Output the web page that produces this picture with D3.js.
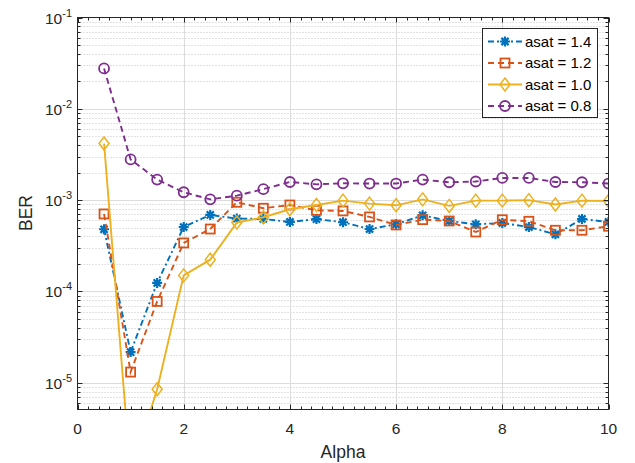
<!DOCTYPE html>
<html><head><meta charset="utf-8">
<script src="https://cdn.jsdelivr.net/npm/d3@7"></script>
<style>body{margin:0;background:#fff}svg{display:block}</style>
</head><body><svg id="c" width="635" height="463"></svg>
<script>
const alpha = [0.5,1,1.5,2,2.5,3,3.5,4,4.5,5,5.5,6,6.5,7,7.5,8,8.5,9,9.5,10];
const ber14 = [4.8e-4,2.17e-5,1.24e-4,5.08e-4,6.89e-4,6.28e-4,6.22e-4,5.77e-4,6.2e-4,5.73e-4,4.83e-4,5.44e-4,6.82e-4,5.91e-4,5.44e-4,5.62e-4,5.08e-4,4.23e-4,6.22e-4,5.77e-4];
const ber12 = [7.06e-4,1.31e-5,7.78e-5,3.4e-4,4.83e-4,9.48e-4,8.15e-4,8.85e-4,7.74e-4,7.62e-4,6.55e-4,5.35e-4,6.12e-4,5.91e-4,4.48e-4,6.1e-4,5.87e-4,4.68e-4,4.68e-4,5.18e-4];
const ber10 = [4.17e-3,1.0e-6,8.5e-6,1.5e-4,2.23e-4,5.68e-4,6.5e-4,7.94e-4,8.85e-4,9.88e-4,9.17e-4,8.78e-4,1.02e-3,8.65e-4,9.88e-4,9.88e-4,1.0e-3,8.95e-4,9.88e-4,9.8e-4];
const ber08 = [2.77e-2,2.79e-3,1.68e-3,1.22e-3,1.02e-3,1.12e-3,1.32e-3,1.58e-3,1.49e-3,1.53e-3,1.52e-3,1.52e-3,1.68e-3,1.57e-3,1.6e-3,1.75e-3,1.75e-3,1.58e-3,1.57e-3,1.52e-3];
const seriesNames = ["asat = 1.4","asat = 1.2","asat = 1.0","asat = 0.8"];
const xTicks = [0,2,4,6,8,10];
const yTickExps = [-1,-2,-3,-4,-5];

const svg = d3.select("#c");
const L=77.5,R=608.5,T=17.5,B=409.5;
const x = d3.scaleLinear().domain([0,10]).range([L,R]);
const y = d3.scaleLog().domain([5.1e-6,0.1]).range([B,T]);
const axisCol="#262626";
const font="Liberation Sans, Arial, sans-serif";
const series = [
  {v:ber14,color:"#0072BD",dash:"6,3,2,3",marker:"ast"},
  {v:ber12,color:"#D95319",dash:"6,4",marker:"sq"},
  {v:ber10,color:"#EDB120",dash:null,marker:"dia"},
  {v:ber08,color:"#7E2F8E",dash:"6,4",marker:"circ"}
];

svg.append("defs").append("clipPath").attr("id","clip").append("rect")
  .attr("x",L).attr("y",T).attr("width",R-L).attr("height",B-T);

const g = svg.append("g");
// minor y grid
for(let e=-6;e<-1;e++){
  for(let k=2;k<=9;k++){
    const v=k*Math.pow(10,e);
    if(v<5.1e-6||v>0.1) continue;
    const yy=Math.round(y(v))+0.5;
    g.append("line").attr("x1",L).attr("x2",R).attr("y1",yy).attr("y2",yy)
      .attr("stroke","#c4c4c4").attr("stroke-width",1).attr("stroke-dasharray","1,2");
  }
}
// major grid
xTicks.forEach(t=>{ if(t>0&&t<10){ const xx=Math.round(x(t))+0.5; g.append("line").attr("x1",xx).attr("x2",xx).attr("y1",T).attr("y2",B).attr("stroke","#dcdcdc"); }});
yTickExps.forEach(e=>{ const v=Math.pow(10,e); if(e>-2) return; g.append("line").attr("x1",L).attr("x2",R).attr("y1",Math.round(y(v))+0.5).attr("y2",Math.round(y(v))+0.5).attr("stroke","#dcdcdc"); });

// data
const plot = svg.append("g").attr("clip-path","url(#clip)");
const line = d3.line().x((d,i)=>x(alpha[i])).y(d=>y(d));
function marker(sel,type,color,cx,cy){
  if(type==="circ") sel.append("circle").attr("cx",cx).attr("cy",cy).attr("r",5).attr("fill","none").attr("stroke",color).attr("stroke-width",1.8);
  else if(type==="sq") sel.append("rect").attr("x",cx-4.5).attr("y",cy-4.5).attr("width",9).attr("height",9).attr("fill","none").attr("stroke",color).attr("stroke-width",1.8);
  else if(type==="dia") sel.append("path").attr("d",`M${cx},${cy-6.5}L${cx+5},${cy}L${cx},${cy+6.5}L${cx-5},${cy}Z`).attr("fill","none").attr("stroke",color).attr("stroke-width",1.5);
  else if(type==="ast"){
    const r=5;
    let d=`M${cx-r},${cy}L${cx+r},${cy}M${cx},${cy-r}L${cx},${cy+r}`;
    const a=r*0.72;
    d+=`M${cx-a},${cy-a}L${cx+a},${cy+a}M${cx-a},${cy+a}L${cx+a},${cy-a}`;
    sel.append("path").attr("d",d).attr("stroke",color).attr("stroke-width",2.2).attr("fill","none");
  }
}
series.forEach(s=>{
  const p=plot.append("path").datum(s.v).attr("d",line).attr("fill","none").attr("stroke",s.color).attr("stroke-width",1.9);
  if(s.dash) p.attr("stroke-dasharray",s.dash);
  s.v.forEach((v,i)=>marker(plot,s.marker,s.color,x(alpha[i]),y(v)));
});

// axes box
const ax = svg.append("g");
ax.append("rect").attr("x",L).attr("y",T).attr("width",R-L).attr("height",B-T).attr("fill","none").attr("stroke",axisCol).attr("stroke-width",1);
for(let i=0;i<=50;i++){
  const t=i*0.2;
  const major = i%10===0;
  const len = major?5:3;
  const xx=Math.round(x(t))+0.5;
  ax.append("line").attr("x1",xx).attr("x2",xx).attr("y1",B).attr("y2",B-len).attr("stroke",axisCol);
  ax.append("line").attr("x1",xx).attr("x2",xx).attr("y1",T).attr("y2",T+len).attr("stroke",axisCol);
}
xTicks.forEach(t=>{
  ax.append("text").attr("x",x(t)).attr("y",433.5).attr("text-anchor","middle")
    .attr("font-family",font).attr("font-size",15.5).attr("fill",axisCol).text(t);
});
for(let e=-6;e<=-1;e++){
  for(let k=1;k<=9;k++){
    const v=k*Math.pow(10,e);
    if(v<5.1e-6||v>0.1000001) continue;
    const len=k===1?5:3;
    const yy=Math.round(y(v))+0.5;
    ax.append("line").attr("x1",L).attr("x2",L+len).attr("y1",yy).attr("y2",yy).attr("stroke",axisCol);
    ax.append("line").attr("x1",R).attr("x2",R-len).attr("y1",yy).attr("y2",yy).attr("stroke",axisCol);
  }
}
yTickExps.forEach(e=>{
  const t=ax.append("text").attr("x",72).attr("y",y(Math.pow(10,e))+6).attr("text-anchor","end")
    .attr("font-family",font).attr("font-size",15.5).attr("fill",axisCol);
  t.append("tspan").text("10");
  t.append("tspan").attr("dy",-7).attr("font-size",11).text(e);
});
ax.append("text").attr("x",343).attr("y",458).attr("text-anchor","middle")
  .attr("font-family",font).attr("font-size",17.5).attr("fill",axisCol).text("Alpha");
ax.append("text").attr("transform","translate(32,213) rotate(-90)").attr("text-anchor","middle")
  .attr("font-family",font).attr("font-size",17.5).attr("fill",axisCol).text("BER");

// legend
const lg = svg.append("g");
lg.append("rect").attr("x",482.5).attr("y",28.5).attr("width",115).attr("height",89).attr("fill","#fff").attr("stroke","#262626").attr("stroke-width",1);
const rowY=[41.5,63,84.5,106];
series.forEach((s,i)=>{
  const ly=rowY[i];
  const p=lg.append("line").attr("x1",488).attr("x2",522).attr("y1",ly).attr("y2",ly).attr("stroke",s.color).attr("stroke-width",1.9);
  if(s.dash) p.attr("stroke-dasharray",s.dash);
  marker(lg,s.marker,s.color,505,ly);
  lg.append("text").attr("x",525).attr("y",ly+5).attr("font-family",font)
    .attr("font-size",15).attr("fill","#000").text(seriesNames[i]);
});
</script></body></html>
